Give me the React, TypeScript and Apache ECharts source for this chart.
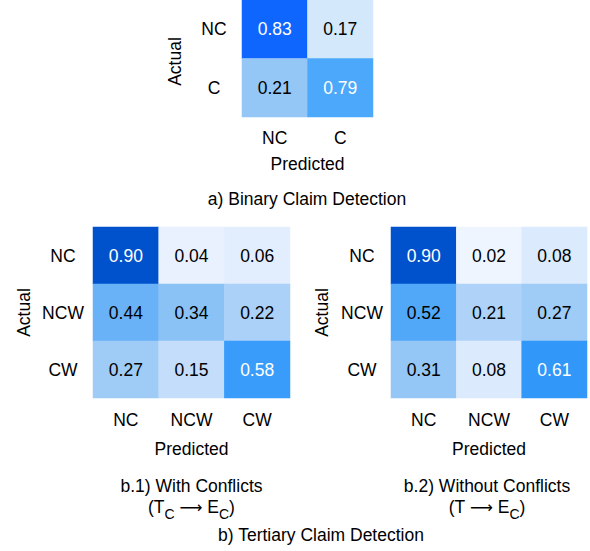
import React, { useEffect, useRef } from "react";
import * as echarts from "echarts";

// ---- data ----
const binaryCats = ["NC", "C"];
const binaryValues = [
  [0.83, 0.17],
  [0.21, 0.79],
];
const tertiaryCats = ["NC", "NCW", "CW"];
const withConflictsValues = [
  [0.9, 0.04, 0.06],
  [0.44, 0.34, 0.22],
  [0.27, 0.15, 0.58],
];
const withoutConflictsValues = [
  [0.9, 0.02, 0.08],
  [0.52, 0.21, 0.27],
  [0.31, 0.08, 0.61],
];
const xAxisTitle = "Predicted";
const yAxisTitle = "Actual";
const captionA = "a) Binary Claim Detection";
const captionB1 = "b.1) With Conflicts";
const captionB2 = "b.2) Without Conflicts";
const captionB = "b) Tertiary Claim Detection";

// colour scales
const binaryColors = [
  "#ffffff", "#b8d8f9", "#5eabf2", "#5cabf3", "#5baaf4", "#5aaaf5", "#58aaf6", "#56a9f7",
  "#54a9f7", "#52a9f8", "#50a8f8", "#4fa8f9", "#4ea8f9", "#4ca8fa", "#0055ff",
];
const tertiaryColors = [
  "#f5f9ff", "#d5e6fb", "#b0d3f8", "#98c8f6", "#74b8f7", "#58aaf8",
  "#3399fa", "#2383f0", "#126ce0", "#0052cc", "#0045b5",
];
const WHITE_TEXT_MIN = 0.55;

const FONT = "'Liberation Sans', Arial, Helvetica, sans-serif";
const FS = 17.5;

function toCells(values: number[][]) {
  const out: any[] = [];
  values.forEach((row, r) =>
    row.forEach((v, c) =>
      out.push({
        value: [c, r, v],
        label: { color: v >= WHITE_TEXT_MIN ? "#ffffff" : "#000000" },
      })
    )
  );
  return out;
}

function axesFor(
  gridIndex: number,
  cats: string[],
  xLabelMargin: number,
  xNameGap: number,
  yLabelMargin: number,
  yNameGap: number,
  yNamePadding: number[]
) {
  const x = {
    type: "category",
    gridIndex,
    data: cats,
    position: "bottom",
    axisLine: { show: false },
    axisTick: { show: false },
    splitLine: { show: false },
    axisLabel: { fontSize: FS, color: "#000", margin: xLabelMargin, fontFamily: FONT },
    name: xAxisTitle,
    nameLocation: "middle",
    nameGap: xNameGap,
    nameTextStyle: { fontSize: FS, color: "#000", fontFamily: FONT },
  };
  const y = {
    type: "category",
    gridIndex,
    data: cats,
    inverse: true,
    axisLine: { show: false },
    axisTick: { show: false },
    splitLine: { show: false },
    axisLabel: { fontSize: FS, color: "#000", margin: yLabelMargin, align: "center", fontFamily: FONT },
    name: yAxisTitle,
    nameLocation: "middle",
    nameRotate: 90,
    nameGap: yNameGap,
    nameTextStyle: { fontSize: FS, color: "#000", fontFamily: FONT, padding: yNamePadding },
  };
  return { x, y };
}

function heat(index: number, values: number[][]) {
  return {
    type: "heatmap",
    xAxisIndex: index,
    yAxisIndex: index,
    data: toCells(values),
    itemStyle: { borderWidth: 0 },
    label: {
      show: true,
      fontSize: FS,
      fontFamily: FONT,
      formatter: (p: any) => Number(p.value[2]).toFixed(2),
    },
    emphasis: { disabled: true },
  };
}

function subCaption(x: number, y: number, parts: string) {
  return {
    type: "text",
    x,
    y,
    style: {
      text: parts,
      align: "center",
      verticalAlign: "middle",
      fontFamily: FONT,
      fontSize: FS,
      fill: "#000",
      rich: {
        m: { fontSize: FS, lineHeight: 28, fill: "#000", fontFamily: FONT },
        a: { fontSize: 16, lineHeight: 28, fill: "#000", fontFamily: "'DejaVu Sans', sans-serif" },
        s: { fontSize: 14, lineHeight: 14, padding: [14, 0, 0, 0], fill: "#000", fontFamily: FONT },
      },
    },
  };
}

function plainCaption(x: number, y: number, text: string) {
  return {
    type: "text",
    x,
    y,
    style: {
      text,
      align: "center",
      verticalAlign: "middle",
      fontFamily: FONT,
      fontSize: FS,
      fill: "#000",
    },
  };
}

export default function App() {
  const ref = useRef<HTMLDivElement>(null);
  useEffect(() => {
    if (!ref.current) return;
    const chart = echarts.init(ref.current, undefined, { renderer: "svg" });
    const a0 = axesFor(0, binaryCats, 12, 38, 28, 58, [0, 6, 0, 0]);
    const a1 = axesFor(1, tertiaryCats, 13, 42, 30, 60, [0, 0, 0, 0]);
    const a2 = axesFor(2, tertiaryCats, 13, 42, 29, 60, [0, 0, 0, 0]);
    chart.setOption({
      animation: false,
      textStyle: { fontFamily: FONT },
      grid: [
        { left: 242, top: 0, width: 131, height: 117 },
        { left: 93, top: 227, width: 197, height: 171 },
        { left: 391, top: 227, width: 196, height: 171 },
      ],
      xAxis: [a0.x, a1.x, a2.x],
      yAxis: [a0.y, a1.y, a2.y],
      visualMap: [
        { type: "continuous", show: false, seriesIndex: 0, dimension: 2, min: 0.14, max: 0.84, inRange: { color: binaryColors } },
        { type: "continuous", show: false, seriesIndex: 1, dimension: 2, min: 0, max: 1, inRange: { color: tertiaryColors } },
        { type: "continuous", show: false, seriesIndex: 2, dimension: 2, min: 0, max: 1, inRange: { color: tertiaryColors } },
      ],
      series: [heat(0, binaryValues), heat(1, withConflictsValues), heat(2, withoutConflictsValues)],
      graphic: [
        plainCaption(307, 198.5, captionA),
        plainCaption(191.5, 485.5, captionB1),
        subCaption(191.5, 507, "{m|(T}{s|C}{m| }{a|⟶}{m| E}{s|C}{m|)}"),
        plainCaption(487, 485.5, captionB2),
        subCaption(487, 507, "{m|(T }{a|⟶}{m| E}{s|C}{m|)}"),
        plainCaption(321, 535, captionB),
      ],
    });
    return () => chart.dispose();
  }, []);
  return (
    <div
      ref={ref}
      style={{ position: "absolute", left: 0, top: 0, width: 590, height: 551 }}
    />
  );
}
